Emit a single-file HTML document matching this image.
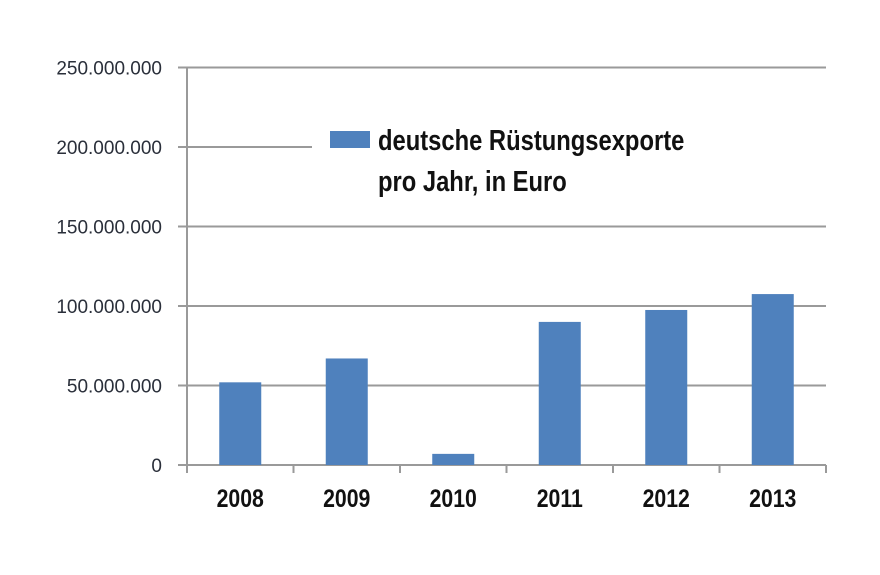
<!DOCTYPE html>
<html><head><meta charset="utf-8"><style>
body{margin:0;background:#fff;}
svg text{font-family:"Liberation Sans",sans-serif;}
</style></head><body>
<svg width="880" height="570" viewBox="0 0 880 570">
<g id="grid"></g><g id="bars"></g><g id="labels"></g>
<rect x="312" y="112" width="520" height="92" fill="#fff"/>
<g>
<rect x="330" y="131" width="40" height="17" fill="#4f81bd"/>
<text x="378" y="150" font-size="29" font-weight="bold" fill="#111" transform="translate(378 0) scale(0.82 1) translate(-378 0)">deutsche Rüstungsexporte</text>
<text x="378" y="191" font-size="29" font-weight="bold" fill="#111" transform="translate(378 0) scale(0.82 1) translate(-378 0)">pro Jahr, in Euro</text>
</g>
</svg>
<script>
const categories=["2008","2009","2010","2011","2012","2013"];
const values=[52000000,67000000,7000000,90000000,97500000,107500000];
const yTicks=[0,50000000,100000000,150000000,200000000,250000000];
const yTickLabels=["0","50.000.000","100.000.000","150.000.000","200.000.000","250.000.000"];
const X0=187,X1=826,Y0=465,Y1=67.5,YMAX=250000000;
const ns="http://www.w3.org/2000/svg";
const y=v=>Y0-(v/YMAX)*(Y0-Y1);
const bw=(X1-X0)/categories.length;
const xc=i=>X0+bw*(i+0.5);
function mk(t,a,p){const e=document.createElementNS(ns,t);for(const k in a)e.setAttribute(k,a[k]);p.appendChild(e);return e;}
const g=document.getElementById('grid'),b=document.getElementById('bars'),l=document.getElementById('labels');
yTicks.forEach((v,i)=>{
 const ln=mk('line',{x1:178,x2:X1,y1:y(v),y2:y(v),stroke:'#9a9a9a','stroke-width':2},g);
 
 
 const t=mk('text',{x:162,y:y(v)+7,'text-anchor':'end','font-size':19,fill:'#2a2f3a'},l);
 t.textContent=yTickLabels[i];
 
 
});
const ax=mk('line',{x1:X0,x2:X0,y1:Y1,y2:Y0+8,stroke:'#9a9a9a','stroke-width':2},g);


for(let i=0;i<=categories.length;i++){
 const tk=mk('line',{x1:X0+bw*i,x2:X0+bw*i,y1:Y0,y2:Y0+8,stroke:'#9a9a9a','stroke-width':2},g);
 
 
}
categories.forEach((c,i)=>{
 const r=mk('rect',{x:xc(i)-21,y:y(values[i]),width:42,height:Y0-y(values[i]),fill:'#4f81bd'},b);
 
 
 const t=mk('text',{x:xc(i),y:507,'text-anchor':'middle','font-size':25,'font-weight':'bold',fill:'#111',transform:`translate(${xc(i)} 0) scale(0.85 1) translate(${-xc(i)} 0)`},l);
 t.textContent=c;
 
 
});
</script>
</body></html>
